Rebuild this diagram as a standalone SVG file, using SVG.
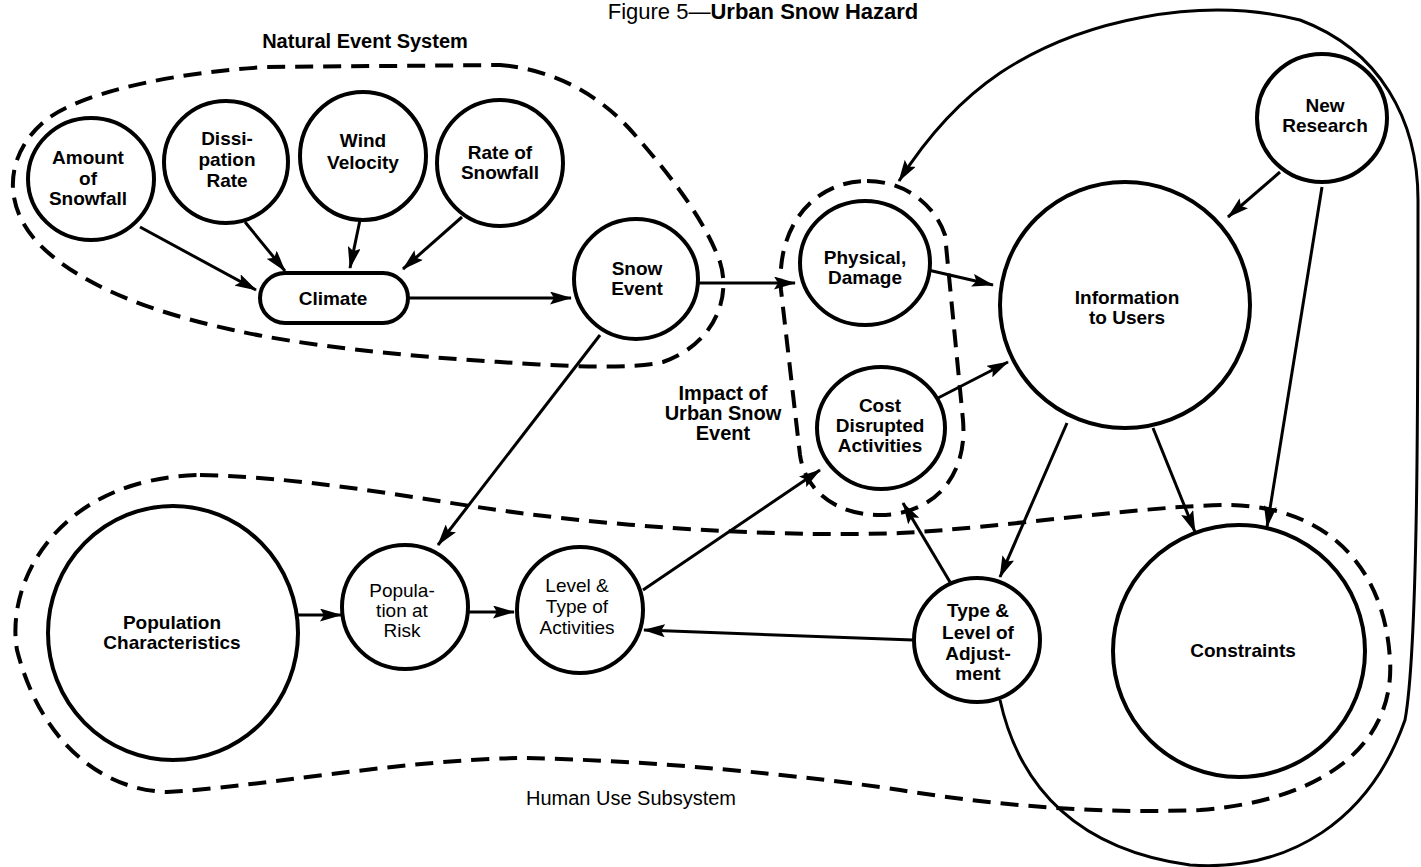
<svg xmlns="http://www.w3.org/2000/svg" width="1421" height="867" viewBox="0 0 1421 867">
<style>
.n{fill:#fff;stroke:#000;stroke-width:4}
.b{fill:none;stroke:#000;stroke-width:4;stroke-dasharray:18 10}
.c{fill:none;stroke:#000;stroke-width:3}
.t{font-family:"Liberation Sans",Arial,sans-serif;font-size:19px;font-weight:bold;text-anchor:middle;fill:#000}
.r{font-weight:normal}
</style>
<defs>
<marker id="ah" viewBox="0 0 22 13" refX="21" refY="6.5" markerWidth="22" markerHeight="13" markerUnits="userSpaceOnUse" orient="auto">
<path d="M0,0 L22,6.5 L0,13 L4,6.5 Z" fill="#000"/>
</marker>
</defs>
<rect x="0" y="0" width="1421" height="867" fill="#fff"/>

<text class="t r" x="763" y="19" style="font-size:22px">Figure 5—<tspan font-weight="bold">Urban Snow Hazard</tspan></text>

<g id="boundaries">
<path id="natural-event-system" class="b" d="M500,65 C560,70 605,100 635,135 C670,175 705,220 720,262 C732,300 712,345 663,362 C630,370 560,366 500,362 C400,356 300,345 233,330 C150,312 80,285 40,245 C0,205 5,150 50,117 C90,90 180,72 267,67 L500,65 Z"/>
<path id="impact-boundary" class="b" d="M867,181 C905,181 935,205 945,235 L963,420 C968,480 930,515 880,515 C835,515 805,490 800,455 L781,290 C776,225 815,181 867,181 Z"/>
<path id="human-use-subsystem" class="b" d="M200,475 C320,478 420,500 520,513 C650,530 800,537 900,533 C1000,528 1150,505 1230,505 C1330,507 1385,570 1390,660 C1395,740 1330,800 1200,810 C1100,814 1000,806 900,790 C800,775 650,760 520,758 C400,760 250,788 167,792 C100,790 40,740 17,650 C5,580 60,478 200,475 Z"/>
<text class="t" x="365" y="48" style="font-size:20px">Natural Event System</text>
<text class="t" x="723" y="400" style="font-size:20px">Impact of</text>
<text class="t" x="723" y="420" style="font-size:20px">Urban Snow</text>
<text class="t" x="723" y="440" style="font-size:20px">Event</text>
<text class="t r" x="631" y="805" style="font-size:20px">Human Use Subsystem</text>
</g>

<g id="connectors">
<line class="c" x1="140" y1="227" x2="256" y2="290" marker-end="url(#ah)"/>
<line class="c" x1="245" y1="222" x2="285" y2="271" marker-end="url(#ah)"/>
<line class="c" x1="360" y1="220" x2="350" y2="268" marker-end="url(#ah)"/>
<line class="c" x1="462" y1="217" x2="403" y2="269" marker-end="url(#ah)"/>
<line class="c" x1="408" y1="298" x2="571" y2="298" marker-end="url(#ah)"/>
<line class="c" x1="698" y1="283" x2="795" y2="283" marker-end="url(#ah)"/>
<line class="c" x1="600" y1="335" x2="438" y2="545" marker-end="url(#ah)"/>
<line class="c" x1="928" y1="270" x2="993" y2="285" marker-end="url(#ah)"/>
<line class="c" x1="938" y1="398" x2="1008" y2="362" marker-end="url(#ah)"/>
<line class="c" x1="1280" y1="172" x2="1228" y2="217" marker-end="url(#ah)"/>
<line class="c" x1="1322" y1="187" x2="1267" y2="527" marker-end="url(#ah)"/>
<line class="c" x1="1067" y1="423" x2="1000" y2="577" marker-end="url(#ah)"/>
<line class="c" x1="1153" y1="428" x2="1195" y2="532" marker-end="url(#ah)"/>
<line class="c" x1="298" y1="615" x2="341" y2="615" marker-end="url(#ah)"/>
<line class="c" x1="468" y1="612" x2="514" y2="612" marker-end="url(#ah)"/>
<line class="c" x1="643" y1="590" x2="820" y2="470" marker-end="url(#ah)"/>
<line class="c" x1="950" y1="582" x2="903" y2="503" marker-end="url(#ah)"/>
<line class="c" x1="913" y1="640" x2="644" y2="630" marker-end="url(#ah)"/>
<path class="c" d="M1000,700 C1020,790 1080,850 1190,865 C1290,872 1370,820 1405,720 C1418,650 1418,400 1418,200 C1418,120 1380,50 1300,20 C1200,-5 1080,20 1000,73 C960,100 925,140 899,181" marker-end="url(#ah)"/>
</g>

<g id="amount-of-snowfall"><ellipse class="n" cx="91" cy="179" rx="63" ry="61"/>
<text class="t" x="88" y="164">Amount</text><text class="t" x="88" y="185">of</text><text class="t" x="88" y="205">Snowfall</text></g>
<g id="dissipation-rate"><ellipse class="n" cx="226" cy="162" rx="62" ry="61"/>
<text class="t" x="227" y="145">Dissi-</text><text class="t" x="227" y="166">pation</text><text class="t" x="227" y="187">Rate</text></g>
<g id="wind-velocity"><ellipse class="n" cx="363" cy="156" rx="63" ry="64"/>
<text class="t" x="363" y="147">Wind</text><text class="t" x="363" y="169">Velocity</text></g>
<g id="rate-of-snowfall"><ellipse class="n" cx="500" cy="163" rx="63" ry="63"/>
<text class="t" x="500" y="159">Rate of</text><text class="t" x="500" y="179">Snowfall</text></g>
<g id="climate"><rect class="n" x="260" y="273" width="148" height="50" rx="25"/>
<text class="t" x="333" y="305">Climate</text></g>
<g id="snow-event"><ellipse class="n" cx="636" cy="279" rx="62" ry="60"/>
<text class="t" x="637" y="275">Snow</text><text class="t" x="637" y="295">Event</text></g>
<g id="physical-damage"><ellipse class="n" cx="865" cy="263" rx="65" ry="62"/>
<text class="t" x="865" y="264">Physical,</text><text class="t" x="865" y="284">Damage</text></g>
<g id="cost-disrupted-activities"><ellipse class="n" cx="881" cy="428" rx="64" ry="61"/>
<text class="t" x="880" y="412">Cost</text><text class="t" x="880" y="432">Disrupted</text><text class="t" x="880" y="452">Activities</text></g>
<g id="information-to-users"><ellipse class="n" cx="1125" cy="305" rx="125" ry="123"/>
<text class="t" x="1127" y="304">Information</text><text class="t" x="1127" y="324">to Users</text></g>
<g id="new-research"><ellipse class="n" cx="1322" cy="118" rx="65" ry="64"/>
<text class="t" x="1325" y="112">New</text><text class="t" x="1325" y="132">Research</text></g>
<g id="population-characteristics"><ellipse class="n" cx="173" cy="633" rx="125" ry="127"/>
<text class="t" x="172" y="629">Population</text><text class="t" x="172" y="649">Characteristics</text></g>
<g id="population-at-risk"><ellipse class="n" cx="405" cy="607" rx="63" ry="62"/>
<text class="t r" x="402" y="597">Popula-</text><text class="t r" x="402" y="617">tion at</text><text class="t r" x="402" y="637">Risk</text></g>
<g id="level-type-activities"><ellipse class="n" cx="580" cy="610" rx="63" ry="63"/>
<text class="t r" x="577" y="592">Level &amp;</text><text class="t r" x="577" y="613">Type of</text><text class="t r" x="577" y="634">Activities</text></g>
<g id="type-level-adjustment"><ellipse class="n" cx="977" cy="640" rx="63" ry="62"/>
<text class="t" x="978" y="617">Type &amp;</text><text class="t" x="978" y="639">Level of</text><text class="t" x="978" y="660">Adjust-</text><text class="t" x="978" y="680">ment</text></g>
<g id="constraints"><ellipse class="n" cx="1239" cy="651" rx="126" ry="126"/>
<text class="t" x="1243" y="657">Constraints</text></g>
</svg>
